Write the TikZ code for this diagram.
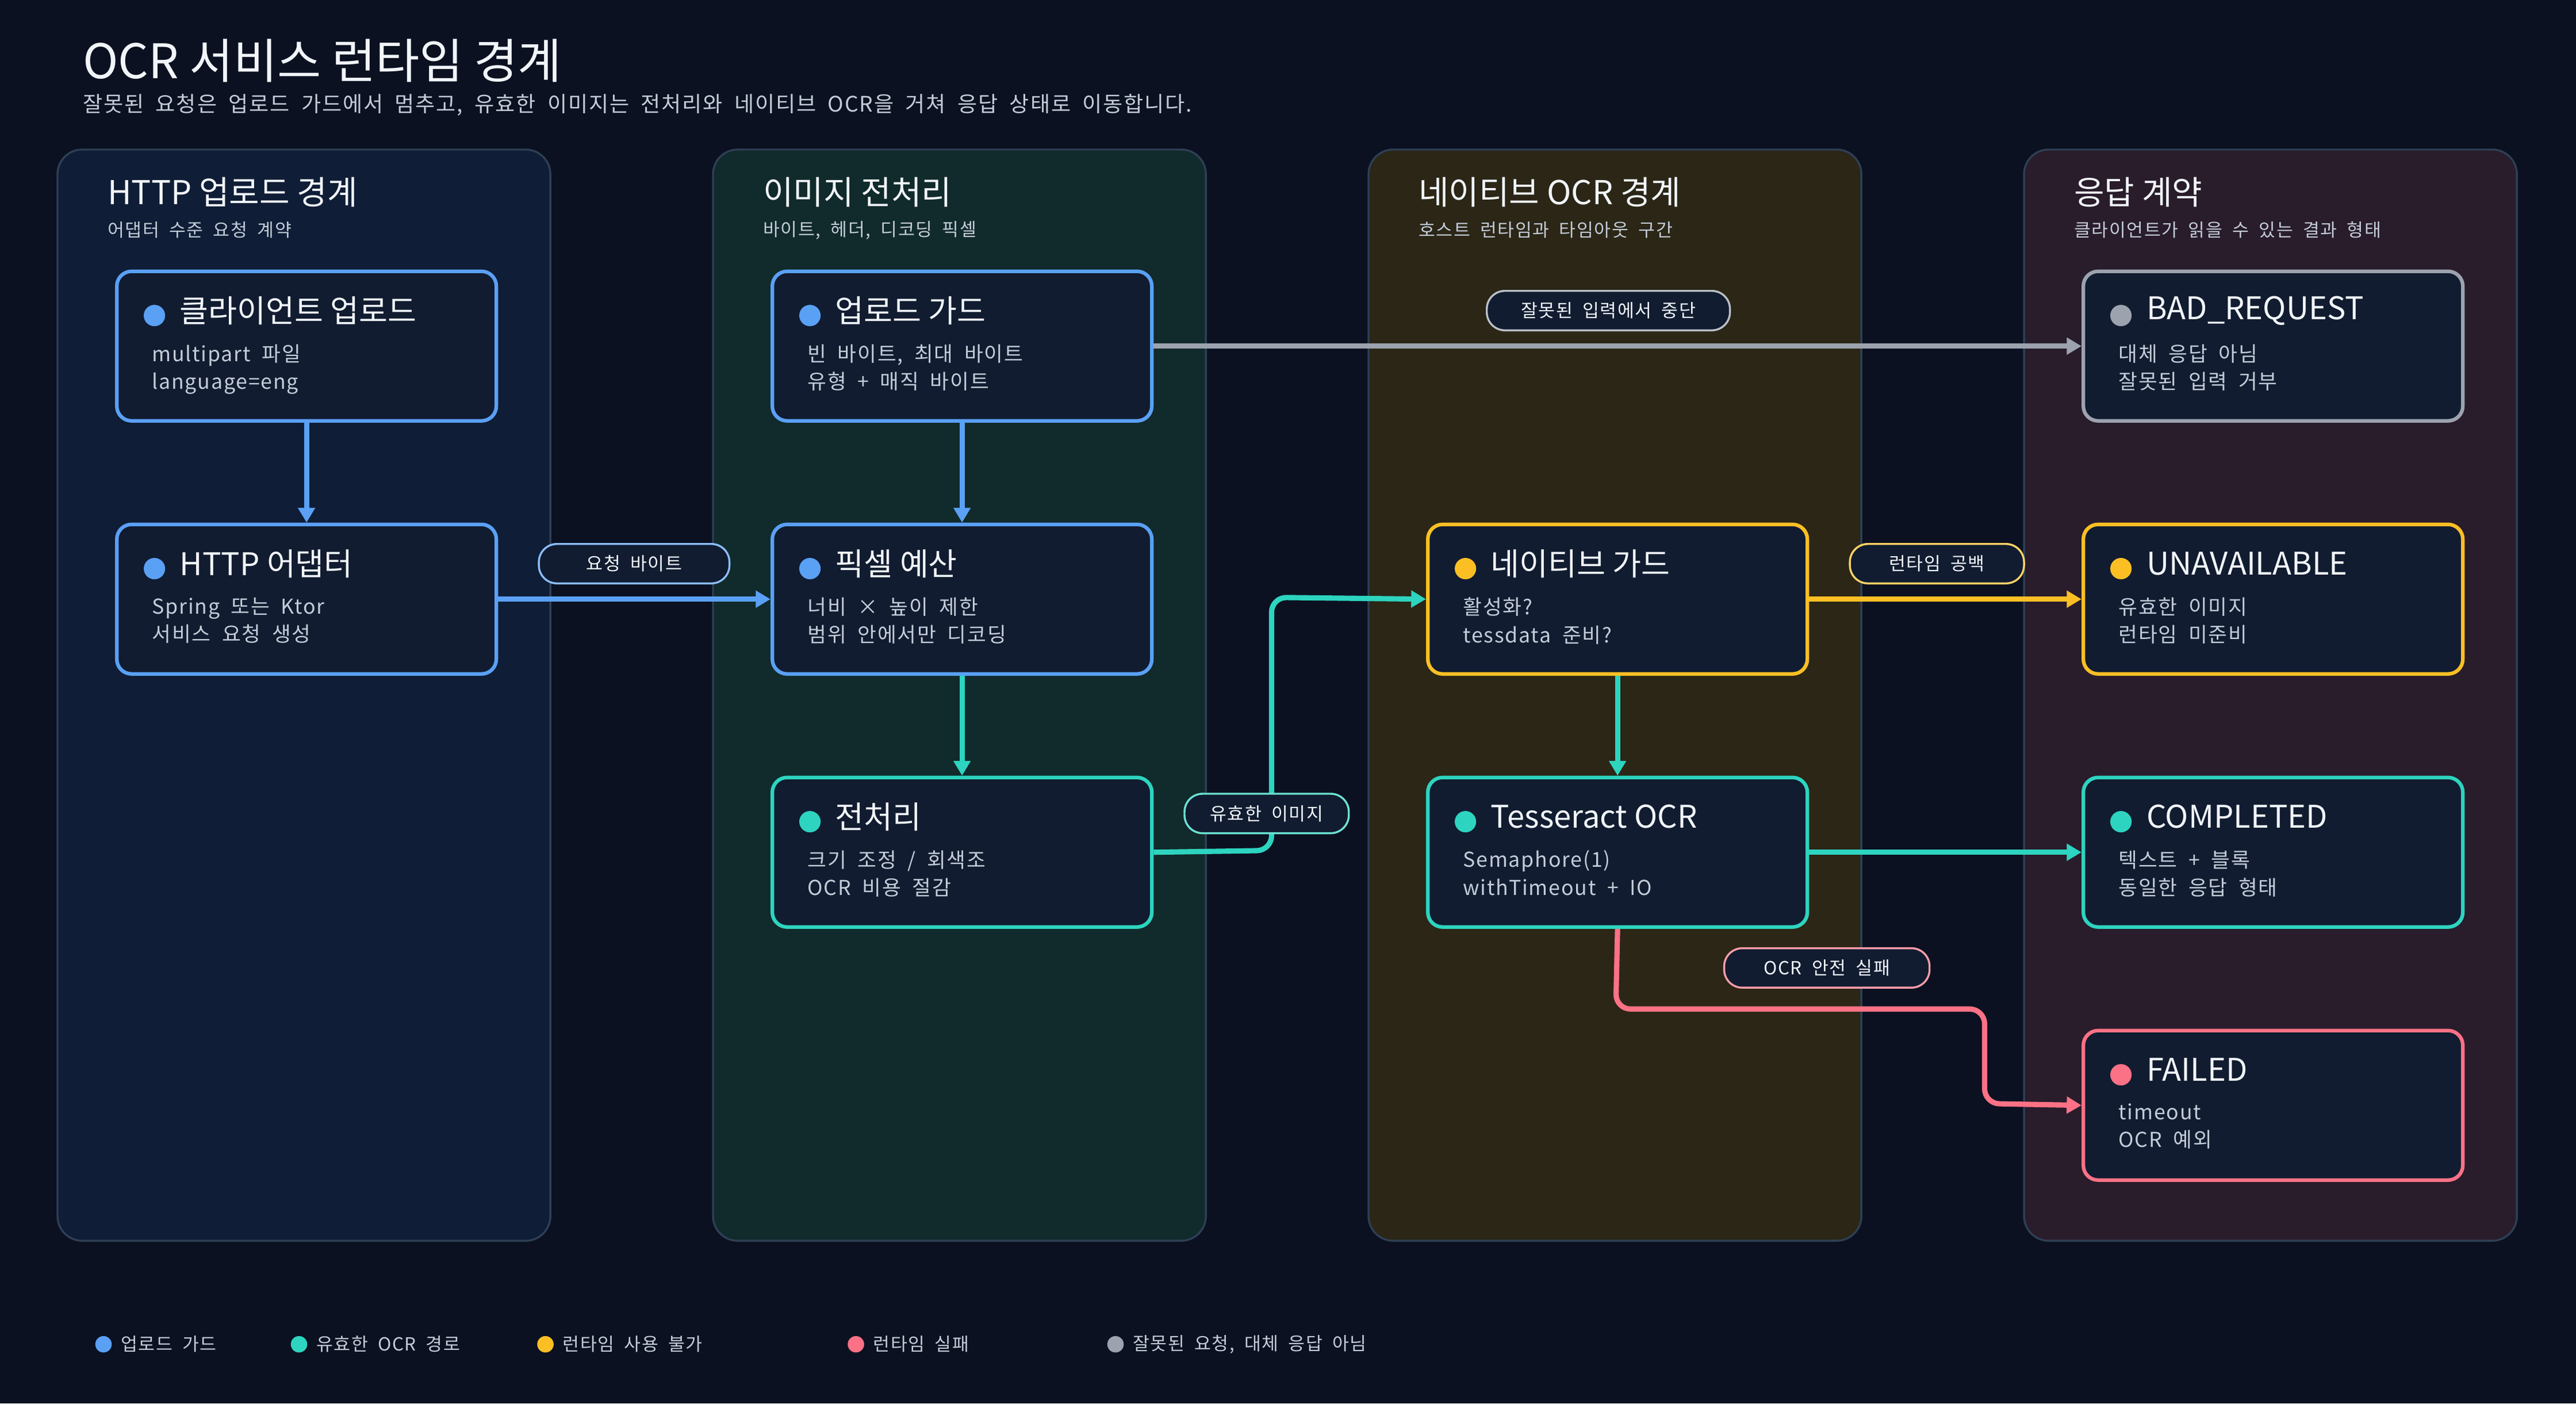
\documentclass[tikz,border=0pt]{standalone}
\usepackage{fontspec}
\setmainfont{Noto Sans CJK KR}
\newfontfamily\spaced[LetterSpace=5,WordSpace=2.0]{Noto Sans CJK KR}
\usetikzlibrary{arrows.meta,positioning}
\definecolor{bg}{HTML}{0B1120}
\definecolor{nodefill}{HTML}{111C30}
\definecolor{laneline}{HTML}{2E3F55}
\definecolor{laneA}{HTML}{0F1D36}
\definecolor{laneB}{HTML}{112A2B}
\definecolor{laneC}{HTML}{2B2616}
\definecolor{laneD}{HTML}{291C2B}
\definecolor{cblue}{HTML}{5AA0F5}
\definecolor{cteal}{HTML}{2DD4BF}
\definecolor{cyel}{HTML}{FBBF24}
\definecolor{cred}{HTML}{FB7185}
\definecolor{cgray}{HTML}{9CA3AF}
\definecolor{txt}{HTML}{F1F5F9}
\definecolor{sub}{HTML}{C3CCD8}
\begin{document}
\begin{tikzpicture}[x=1pt,y=-1pt,
  lane/.style={draw=laneline,line width=1.2pt,rounded corners=15pt},
  box/.style={draw=#1,line width=2.2pt,fill=nodefill,rounded corners=9pt,minimum width=231pt,minimum height=91pt,anchor=north west},
  edge/.style={draw=#1,line width=3.2pt,rounded corners=9pt,-{Triangle[length=9pt,width=10pt]}},
  pill/.style={draw=#1!70!white,line width=1.2pt,fill=nodefill,rounded corners=11pt,minimum height=24pt,inner xsep=12pt,text=txt,font=\spaced\fontsize{11}{12}\selectfont},
  ttl/.style={text=txt,anchor=west,font=\fontsize{19}{21}\selectfont},
  bdy/.style={text=sub,anchor=north west,align=left,font=\spaced\fontsize{12.5}{17}\selectfont},
  ltitle/.style={text=txt,anchor=west,font=\fontsize{20}{22}\selectfont},
  lsub/.style={text=sub,anchor=west,font=\spaced\fontsize{11}{12}\selectfont},
  leg/.style={text=sub,anchor=west,font=\spaced\fontsize{11}{12}\selectfont}]
\fill[bg] (0,0) rectangle (1568,854);
\useasboundingbox (0,0) rectangle (1568,854);
\node[text=txt,anchor=west,font=\fontsize{29}{32}\selectfont] (title) at (47,37) {OCR 서비스 런타임 경계};
\node[text=sub,anchor=west,font=\spaced\fontsize{13}{15}\selectfont] (subtitle) at (47,64) {잘못된 요청은 업로드 가드에서 멈추고, 유효한 이미지는 전처리와 네이티브 OCR을 거쳐 응답 상태로 이동합니다.};
% lanes
\draw[lane,fill=laneA] (35,91) rectangle (335,755);
\draw[lane,fill=laneB] (434,91) rectangle (734,755);
\draw[lane,fill=laneC] (833,91) rectangle (1133,755);
\draw[lane,fill=laneD] (1232,91) rectangle (1532,755);
\node[ltitle] (l1) at (62,117) {HTTP 업로드 경계};
\node[lsub] (l1s) at (62,140) {어댑터 수준 요청 계약};
\node[ltitle] (l2) at (461,117) {이미지 전처리};
\node[lsub] (l2s) at (461,140) {바이트, 헤더, 디코딩 픽셀};
\node[ltitle] (l3) at (860,117) {네이티브 OCR 경계};
\node[lsub] (l3s) at (860,140) {호스트 런타임과 타임아웃 구간};
\node[ltitle] (l4) at (1259,117) {응답 계약};
\node[lsub] (l4s) at (1259,140) {클라이언트가 읽을 수 있는 결과 형태};
% nodes
\newcommand{\mkbox}[7]{%
  \node[box=#4] (#1) at (#2,#3) {};
  \fill[#4] (#2+24,#3+28) circle (6.5pt);
  \node[ttl] (#1t) at (#2+36,#3+25) {#5};
  \node[bdy] (#1b) at (#2+19,#3+42) {#6\\#7};
}
\mkbox{A}{70}{164}{cblue}{클라이언트 업로드}{multipart 파일}{language=eng}
\mkbox{B}{70}{318}{cblue}{HTTP 어댑터}{Spring 또는 Ktor}{서비스 요청 생성}
\mkbox{C}{469}{164}{cblue}{업로드 가드}{빈 바이트, 최대 바이트}{유형 + 매직 바이트}
\mkbox{D}{469}{318}{cblue}{픽셀 예산}{너비 × 높이 제한}{범위 안에서만 디코딩}
\mkbox{E}{469}{472}{cteal}{전처리}{크기 조정 / 회색조}{OCR 비용 절감}
\mkbox{F}{868}{318}{cyel}{네이티브 가드}{활성화?}{tessdata 준비?}
\mkbox{G}{868}{472}{cteal}{Tesseract OCR}{Semaphore(1)}{withTimeout + IO}
\mkbox{H}{1267}{164}{cgray}{BAD\_REQUEST}{대체 응답 아님}{잘못된 입력 거부}
\mkbox{I}{1267}{318}{cyel}{UNAVAILABLE}{유효한 이미지}{런타임 미준비}
\mkbox{J}{1267}{472}{cteal}{COMPLETED}{텍스트 + 블록}{동일한 응답 형태}
\mkbox{K}{1267}{626}{cred}{FAILED}{timeout}{OCR 예외}
% edges
\draw[edge=cblue] (A.south) -- (B.north);
\draw[edge=cblue] (C.south) -- (D.north);
\draw[edge=cteal] (D.south) -- (E.north);
\draw[edge=cteal] (F.south) -- (G.north);
\draw[edge=cblue] (B.east) -- (D.west);
\draw[edge=cgray] (C.east) -- (H.west);
\draw[edge=cyel] (F.east) -- (I.west);
\draw[edge=cteal] (G.east) -- (J.west);
\draw[edge=cteal] (E.east) -- (774,517.5) -- (774,363.5) -- (F.west);
\draw[edge=cred] (G.south) -- (983.5,614) -- (1208,614) -- (1208,671.5) -- (K.west);
% labels
\node[pill=cblue,minimum width=116pt] (p1) at (386,343) {요청 바이트};
\node[pill=cgray,minimum width=148pt] (p2) at (979,189) {잘못된 입력에서 중단};
\node[pill=cteal,minimum width=100pt] (p3) at (771,495) {유효한 이미지};
\node[pill=cyel,minimum width=106pt] (p4) at (1179,343) {런타임 공백};
\node[pill=cred,minimum width=125pt] (p5) at (1112,589) {OCR 안전 실패};
% legend
\fill[cblue] (63,818) circle (5pt); \node[leg] (g1) at (70,818) {업로드 가드};
\fill[cteal] (182,818) circle (5pt); \node[leg] (g2) at (189,818) {유효한 OCR 경로};
\fill[cyel] (332,818) circle (5pt); \node[leg] (g3) at (339,818) {런타임 사용 불가};
\fill[cred] (521,818) circle (5pt); \node[leg] (g4) at (528,818) {런타임 실패};
\fill[cgray] (679,818) circle (5pt); \node[leg] (g5) at (686,818) {잘못된 요청, 대체 응답 아님};
\end{tikzpicture}
\end{document}
